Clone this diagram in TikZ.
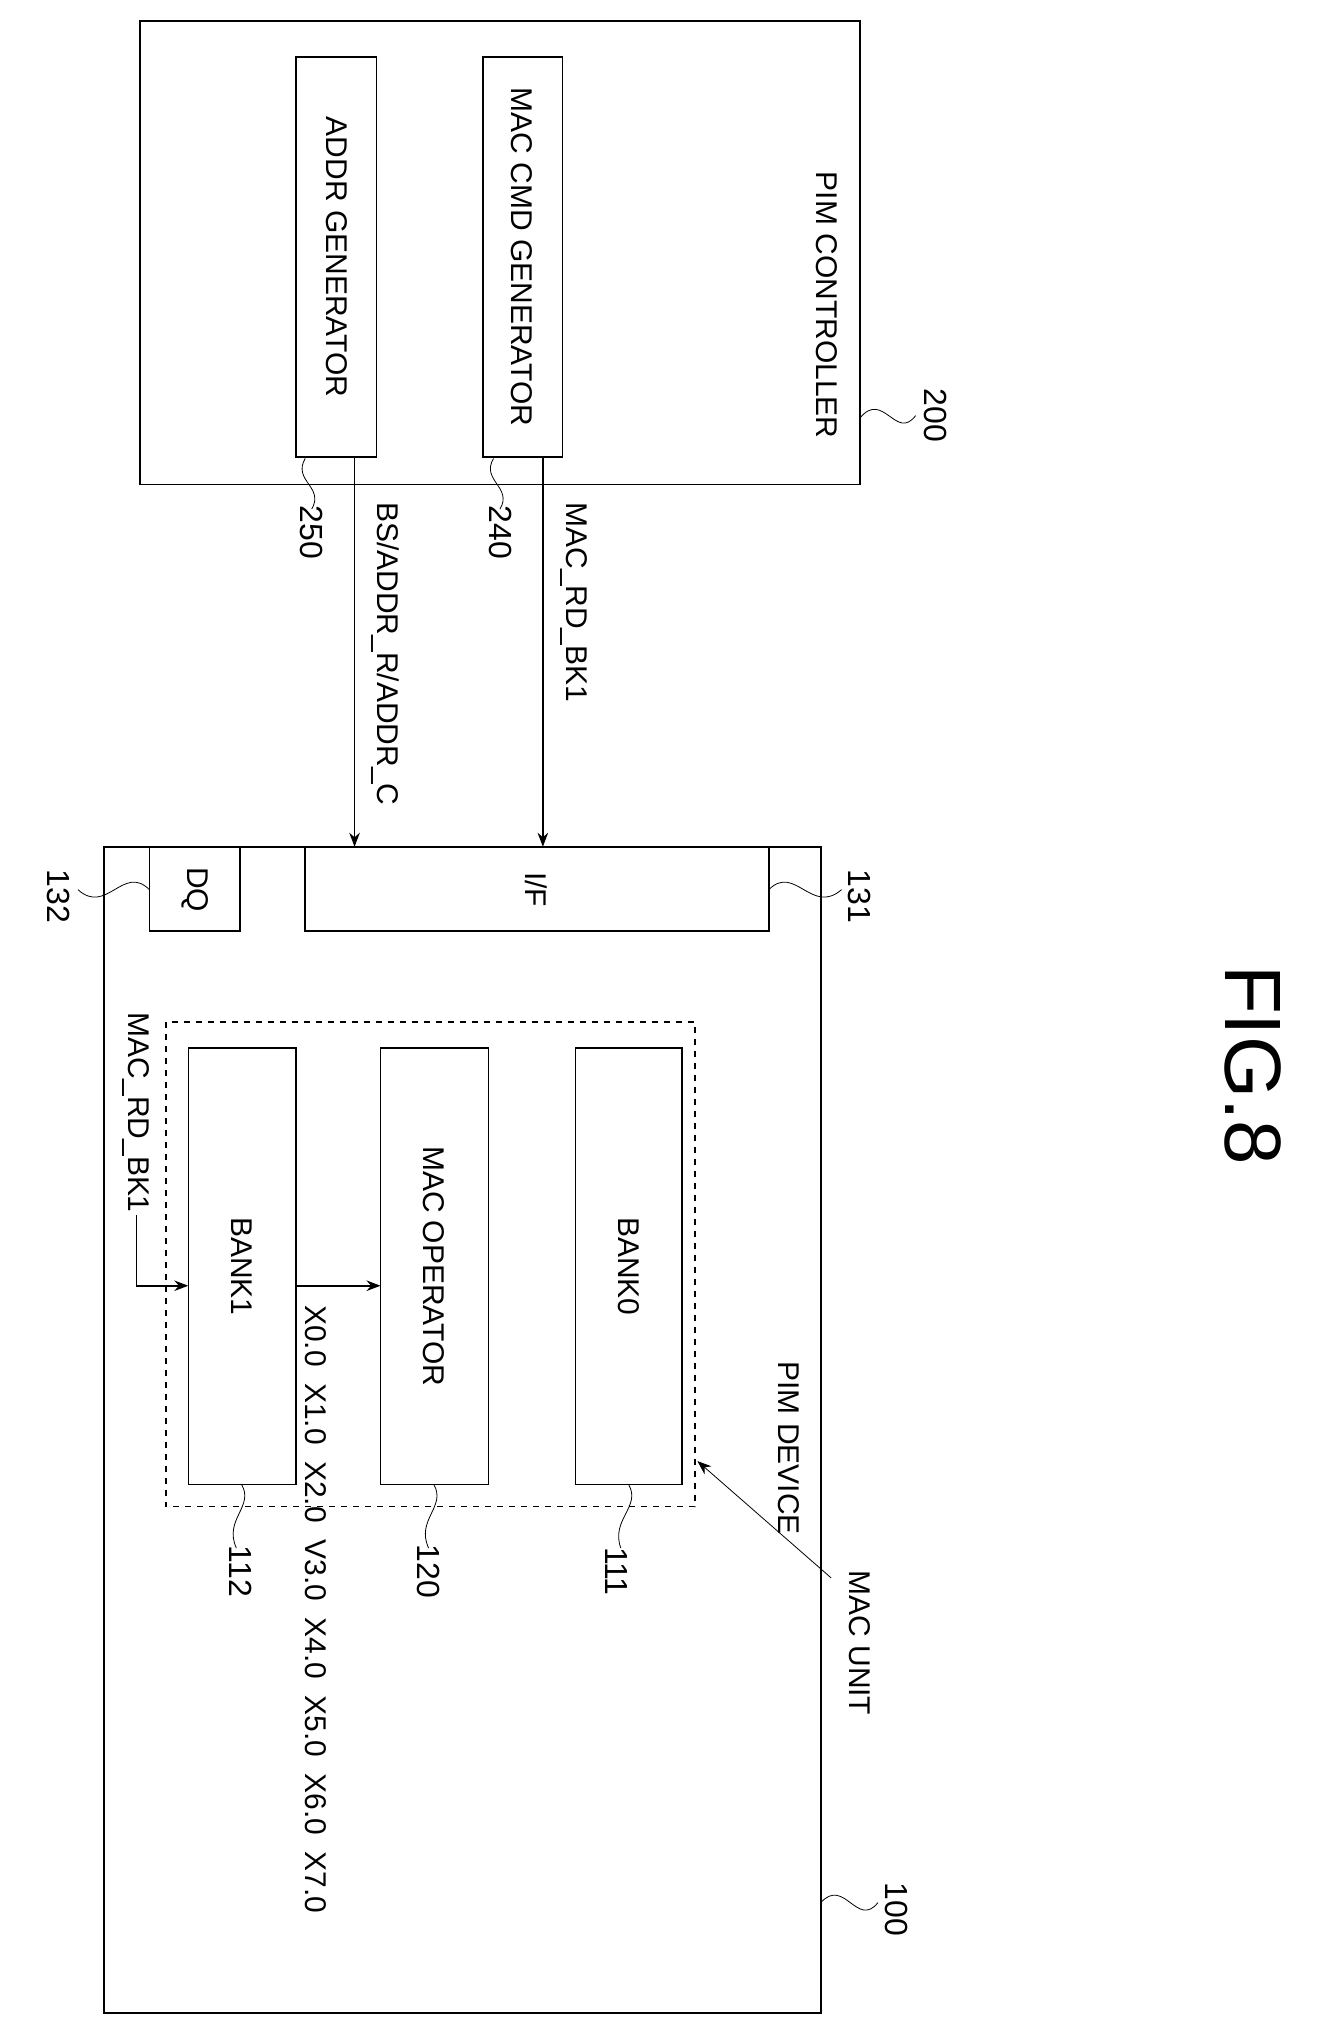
\documentclass[tikz,border=0pt]{standalone}
\usepackage{fontspec}
\setmainfont{Liberation Sans}
\usetikzlibrary{arrows.meta,positioning,calc}

\tikzset{
    blk/.style={draw,thick,inner sep=0pt},
    txt/.style={rotate=-90,font=\fontsize{15}{18}\selectfont,inner sep=1pt},
    lbl/.style={rotate=-90,font=\fontsize{16}{19}\selectfont,inner sep=1pt},
    sig/.style={thick,-{Stealth[length=7pt]}},
    lead/.style={thin}
}
\newcommand{\leader}[2]{\draw[lead] (#1) .. controls ($(#1)!0.5!(#2)+(0,6)$) and ($(#1)!0.5!(#2)+(0,-6)$) .. (#2);}

\begin{document}
\begin{tikzpicture}[x=0.65pt,y=-0.65pt]
    \useasboundingbox (0,0) rectangle (1031,1560);
    % PIM controller
    \draw[thick] (108,16) rectangle (662,373);
    \node[txt] at (637,235) {PIM CONTROLLER};
    \draw[thick] (228,44) rectangle (290,352);
    \node[txt] (addr) at (259,198) {ADDR GENERATOR};
    \draw[thick] (372,44) rectangle (433,352);
    \node[txt] (cmd) at (402,198) {MAC CMD GENERATOR};
    \node[lbl] (l200) at (720,320) {200};
    \draw[lead] (662,322) .. controls (680,300) and (690,340) .. (705,320);
    \node[lbl] (l240) at (385,410) {240};
    \draw[lead] (380,353) .. controls (370,370) and (395,375) .. (385,392);
    \node[lbl] (l250) at (240,410) {250};
    \draw[lead] (235,353) .. controls (225,370) and (250,375) .. (240,392);

    % PIM device
    \draw[thick] (80,652) rectangle (632,1550);
    \draw[thick] (235,652) rectangle (592,717);
    \node[txt] (if) at (413,685) {I/F};
    \draw[thick] (115,652) rectangle (185,717);
    \node[txt] (dq) at (150,685) {DQ};
    \node[lbl] (l131) at (662,690) {131};
    \draw[lead] (592,685) .. controls (612,665) and (625,705) .. (648,685);
    \node[lbl] (l132) at (45,690) {132};
    \draw[lead] (115,685) .. controls (95,665) and (82,705) .. (60,685);
    \node[txt] at (607,1115) {PIM DEVICE};
    \node[lbl] (l100) at (690,1470) {100};
    \draw[lead] (632,1465) .. controls (650,1445) and (660,1485) .. (676,1465);

    % signals between controller and device
    \coordinate (c1) at (418,352);
    \coordinate (d1) at (418,652);
    \draw[sig] (c1) -- (d1);
    \node[txt,anchor=west] at (442,385) {MAC\_RD\_BK1};
    \coordinate (c2) at (273,352);
    \coordinate (d2) at (273,652);
    \draw[sig] (c2) -- (d2);
    \node[txt,anchor=west] at (297,385) {BS/ADDR\_R/ADDR\_C};

    % MAC unit
    \draw[thick,dashed] (128,787) rectangle (535,1160);
    \draw[thick] (443,807) rectangle (525,1143);
    \node[txt] (bank0) at (484,975) {BANK0};
    \draw[thick] (293,807) rectangle (376,1143);
    \node[txt] (macop) at (334,975) {MAC OPERATOR};
    \draw[thick] (145,807) rectangle (228,1143);
    \node[txt] (bank1) at (186,975) {BANK1};
    \node[lbl] (l111) at (475,1210) {111};
    \draw[lead] (484,1143) .. controls (494,1160) and (470,1170) .. (478,1192);
    \node[lbl] (l120) at (330,1210) {120};
    \draw[lead] (334,1143) .. controls (344,1160) and (320,1170) .. (330,1192);
    \node[lbl] (l112) at (185,1210) {112};
    \draw[lead] (186,1143) .. controls (196,1160) and (172,1170) .. (182,1192);
    \node[txt] (macu) at (662,1265) {MAC UNIT};
    \coordinate (mu) at (537,1125);
    \draw[sig,thin] (640,1215) -- (mu);

    % read into bank1, data to MAC operator
    \node[txt,anchor=west] (rd) at (105,778) {MAC\_RD\_BK1};
    \coordinate (b1in) at (145,990);
    \draw[sig] (rd.east) |- (b1in);
    \coordinate (b1out) at (228,990);
    \coordinate (opin) at (293,990);
    \draw[sig] (b1out) -- (opin);
    \node[txt,anchor=west] at (243,1003) {X0.0\hspace{0.55em}X1.0\hspace{0.55em}X2.0\hspace{0.55em}V3.0\hspace{0.55em}X4.0\hspace{0.55em}X5.0\hspace{0.55em}X6.0\hspace{0.55em}X7.0};

    \node[rotate=-90,font=\fontsize{40}{48}\selectfont] at (965,820) {FIG.8};
\end{tikzpicture}
\end{document}
